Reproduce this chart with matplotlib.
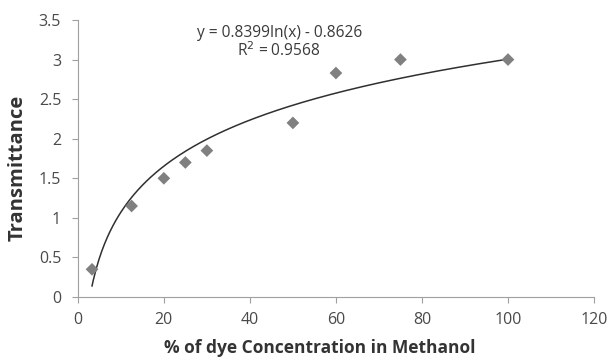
import matplotlib.pyplot as plt
import numpy as np

# dye concentration (%) vs measured transmittance
concentration = [3.3, 12.5, 20, 25, 30, 50, 60, 75, 100]
transmittance = [0.35, 1.15, 1.5, 1.7, 1.85, 2.2, 2.83, 3.0, 3.0]

# logarithmic trendline coefficients
fit_a = 0.8399
fit_b = -0.8626
fit_r2 = 0.9568

x_ticks = [0, 20, 40, 60, 80, 100, 120]
y_ticks = [0, 0.5, 1, 1.5, 2, 2.5, 3, 3.5]

plt.rcParams['font.family'] = ['Open Sans', 'DejaVu Sans']

fig = plt.figure(figsize=(6.08, 3.57), dpi=100)
ax = fig.add_axes([0.128, 0.168, 0.849, 0.776])

ax.scatter(concentration, transmittance, marker='D', s=42, color='#808080',
           edgecolors='none', zorder=3)

xs = np.linspace(min(concentration), max(concentration), 300)
ax.plot(xs, fit_a * np.log(xs) + fit_b, color='#303030', lw=1.1, zorder=2)

ax.text(0.39, 0.952, "y = %.4fln(x) - %.4f" % (fit_a, -fit_b),
        transform=ax.transAxes, ha='center', va='center', fontsize=11.2,
        color='#3a3a3a')
ax.text(0.39, 0.888, "R$^2$ = %.4f" % fit_r2,
        transform=ax.transAxes, ha='center', va='center', fontsize=11.2,
        color='#3a3a3a')

ax.set_xlim(0, 120)
ax.set_ylim(0, 3.5)
ax.set_xticks(x_ticks)
ax.set_yticks(y_ticks)
ax.set_yticklabels(["0", "0.5", "1", "1.5", "2", "2.5", "3", "3.5"])

for side in ['top', 'right']:
    ax.spines[side].set_visible(False)
for side in ['left', 'bottom']:
    ax.spines[side].set_color('#a0a0a0')
ax.tick_params(colors='#a0a0a0', labelcolor='#4a4a4a', labelsize=11.5,
               length=4, direction='out')
ax.tick_params(axis='y', pad=8)
ax.tick_params(axis='x', pad=7)

ax.set_xlabel("% of dye Concentration in Methanol", fontsize=12.5,
              fontweight='bold', color='#333333')
ax.set_ylabel("Transmittance", fontsize=14.5, fontweight='bold',
              color='#333333')
ax.xaxis.set_label_coords(0.468, -0.15)
ax.yaxis.set_label_coords(-0.097, 0.467)

fig.savefig("out.png", dpi=100)
